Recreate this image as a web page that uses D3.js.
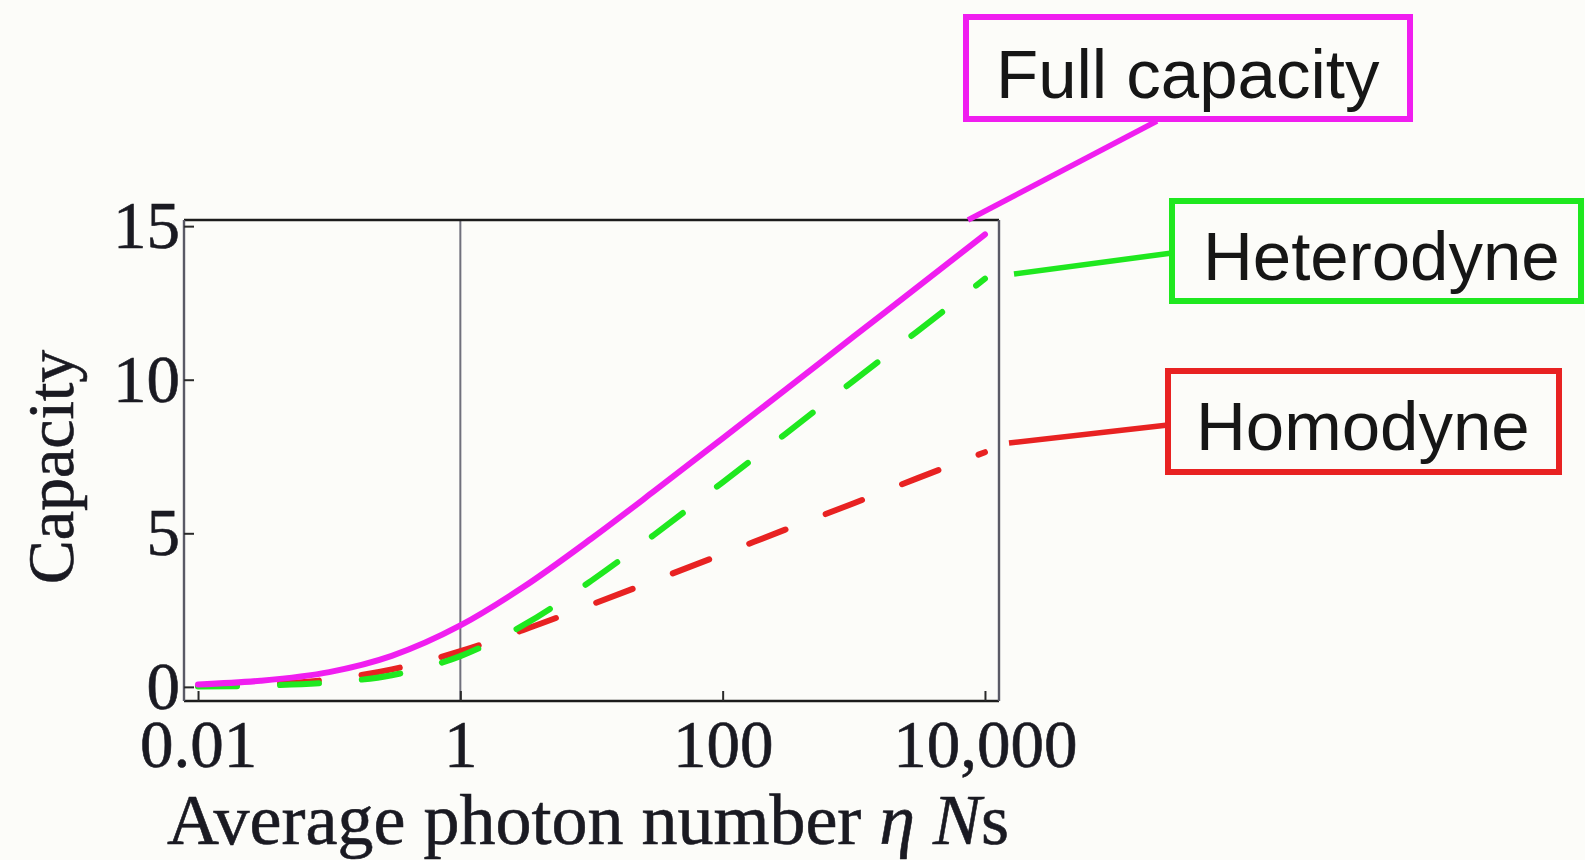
<!DOCTYPE html>
<html>
<head>
<meta charset="utf-8">
<script src="https://cdn.jsdelivr.net/npm/d3@7"></script>
<style>
  html, body { margin: 0; padding: 0; background: #fcfcf9; }
  svg { display: block; }
</style>
</head>
<body>
<div id="chart"></div>
<script>
// values (capacity in bits vs mean photon number)
var photonNumbers = [0.01, 0.03, 0.1, 0.3, 1, 3, 10, 30, 100, 300, 1000, 3000, 10000];
var fullCapacity = [0.08, 0.2, 0.48, 1.01, 2.0, 3.24, 4.83, 6.37, 8.09, 9.67, 11.41, 12.99, 14.73];
var heterodyne = [0.01, 0.04, 0.14, 0.38, 1.0, 2.0, 3.46, 4.95, 6.66, 8.23, 9.97, 11.55, 13.29];
var homodyne = [0.03, 0.08, 0.24, 0.57, 1.16, 1.85, 2.68, 3.46, 4.32, 5.12, 5.98, 6.78, 7.64];

var seriesNames = ["Full capacity", "Heterodyne", "Homodyne"];
var xTicks = [0.01, 1, 100, 10000];
var yTicks = [0, 5, 10, 15];

var width = 1585, height = 860;
// plot frame
var frame = { left: 184, right: 999, top: 220, bottom: 701 };

var svg = d3.select("#chart")
    .append("svg")
    .attr("width", width)
    .attr("height", height);

svg.append("rect")
    .attr("width", width)
    .attr("height", height)
    .attr("fill", "#fcfcf9");

var x = d3.scaleLog()
    .domain([Math.pow(10, -2.107), Math.pow(10, 4.107)])
    .range([frame.left, frame.right]);

var y = d3.scaleLinear()
    .domain([-0.46, 15.2])
    .range([frame.bottom, frame.top]);

var serif = "'Liberation Serif', 'Times New Roman', serif";
var sans = "'Liberation Sans', Arial, Helvetica, sans-serif";
var ink = "#1a1a22";

// vertical axis line at x = 1
svg.append("line")
    .attr("x1", x(1)).attr("x2", x(1))
    .attr("y1", frame.top).attr("y2", frame.bottom)
    .attr("stroke", "#70707c")
    .attr("stroke-width", 2);

// curves
var series = [
    { name: seriesNames[0], values: fullCapacity, color: "#f01ef0", dash: null },
    { name: seriesNames[1], values: heterodyne, color: "#1fe81f", dash: "39,43" },
    { name: seriesNames[2], values: homodyne, color: "#e82222", dash: "39,43" }
];

var line = d3.line()
    .x(function (d) { return x(d[0]); })
    .y(function (d) { return y(d[1]); })
    .curve(d3.curveMonotoneX);

// draw red and green first, magenta on top
[series[2], series[1], series[0]].forEach(function (s) {
    var pts = photonNumbers.map(function (n, i) { return [n, s.values[i]]; });
    svg.append("path")
        .datum(pts)
        .attr("d", line)
        .attr("fill", "none")
        .attr("stroke", s.color)
        .attr("stroke-width", 6)
        .attr("stroke-linecap", "round")
        .attr("stroke-dasharray", s.dash);
});

// frame: top/bottom dark, sides grey
svg.append("line")
    .attr("x1", frame.left).attr("x2", frame.right)
    .attr("y1", frame.top).attr("y2", frame.top)
    .attr("stroke", "#1c1c1c").attr("stroke-width", 2.4);
svg.append("line")
    .attr("x1", frame.left).attr("x2", frame.right)
    .attr("y1", frame.bottom).attr("y2", frame.bottom)
    .attr("stroke", "#1c1c1c").attr("stroke-width", 2.4);
svg.append("line")
    .attr("x1", frame.left).attr("x2", frame.left)
    .attr("y1", frame.top).attr("y2", frame.bottom)
    .attr("stroke", "#5a5a66").attr("stroke-width", 2.4);
svg.append("line")
    .attr("x1", frame.right).attr("x2", frame.right)
    .attr("y1", frame.top).attr("y2", frame.bottom)
    .attr("stroke", "#5a5a66").attr("stroke-width", 2.4);

// axes
var xAxis = d3.axisBottom(x)
    .tickValues(xTicks)
    .tickSizeInner(-10)
    .tickSizeOuter(0)
    .tickPadding(18)
    .tickFormat(d3.format(","));

var yAxis = d3.axisLeft(y)
    .tickValues(yTicks)
    .tickSizeInner(-10)
    .tickSizeOuter(0)
    .tickPadding(4)
    .tickFormat(d3.format("d"));

var gx = svg.append("g")
    .attr("transform", "translate(0," + frame.bottom + ")")
    .call(xAxis);
var gy = svg.append("g")
    .attr("transform", "translate(" + frame.left + ",0)")
    .call(yAxis);

[gx, gy].forEach(function (g) {
    g.select(".domain").remove();
    g.selectAll(".tick line").attr("stroke", "#2a2a2a").attr("stroke-width", 2);
    g.selectAll(".tick text")
        .attr("fill", ink)
        .attr("stroke", ink)
        .attr("stroke-width", 0.6)
        .style("font-family", serif)
        .style("font-size", "67px");
});

// axis titles
svg.append("text")
    .attr("transform", "translate(73,467) rotate(-90)")
    .attr("text-anchor", "middle")
    .attr("fill", ink)
    .attr("stroke", ink)
    .attr("stroke-width", 0.6)
    .style("font-family", serif)
    .style("font-size", "66px")
    .text("Capacity");

var xTitle = svg.append("text")
    .attr("x", 588)
    .attr("y", 844)
    .attr("text-anchor", "middle")
    .attr("fill", ink)
    .attr("stroke", ink)
    .attr("stroke-width", 0.6)
    .style("font-family", serif)
    .style("font-size", "72px");
xTitle.append("tspan").text("Average photon number ");
xTitle.append("tspan").style("font-style", "italic").text("\u03B7 N");
xTitle.append("tspan").text("s");

// callout labels
var callouts = [
    { s: series[0], box: [966, 17, 444, 102], text: [996, 98], lead: [968, 220, 1157, 121] },
    { s: series[1], box: [1172, 201, 409, 100], text: [1203, 280], lead: [1014, 274, 1172, 253] },
    { s: series[2], box: [1168, 371, 391, 101], text: [1196, 450], lead: [1009, 443, 1168, 425] }
];

callouts.forEach(function (c) {
    svg.append("line")
        .attr("x1", c.lead[0]).attr("y1", c.lead[1])
        .attr("x2", c.lead[2]).attr("y2", c.lead[3])
        .attr("stroke", c.s.color)
        .attr("stroke-width", 5.5);
    svg.append("rect")
        .attr("x", c.box[0]).attr("y", c.box[1])
        .attr("width", c.box[2]).attr("height", c.box[3])
        .attr("fill", "#fcfcf9")
        .attr("stroke", c.s.color)
        .attr("stroke-width", 6);
    svg.append("text")
        .attr("x", c.text[0]).attr("y", c.text[1])
        .attr("fill", "#161616")
        .style("font-family", sans)
        .style("font-size", "69px")
        .text(c.s.name);
});
</script>
</body>
</html>
